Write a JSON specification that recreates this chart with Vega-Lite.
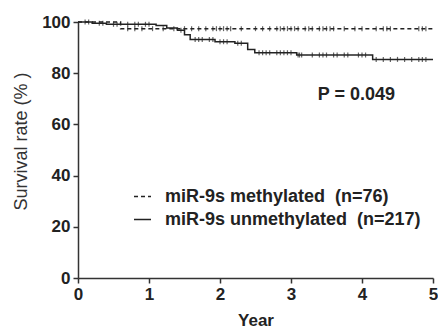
{
  "$schema": "https://vega.github.io/schema/vega-lite/v6.json",
  "width": 355,
  "height": 256,
  "autosize": {"type": "none"},
  "padding": {"left": 78, "top": 22, "right": 5, "bottom": 52},
  "background": "white",
  "config": {
    "view": {"stroke": null},
    "font": "Liberation Sans",
    "axis": {
      "domainColor": "#333",
      "domainWidth": 1.5,
      "tickColor": "#333",
      "tickWidth": 1.5,
      "tickSize": 5,
      "grid": false,
      "labelFont": "Liberation Sans",
      "labelFontWeight": "bold",
      "labelFontSize": 17,
      "labelColor": "#222",
      "titleFont": "Liberation Sans",
      "titleColor": "#222"
    }
  },
  "datasets": {
    "curves": [
      {"group": "miR-9s methylated\u00a0 (n=76)", "year": 0, "surv": 100},
      {"group": "miR-9s methylated\u00a0 (n=76)", "year": 0.6, "surv": 97.4},
      {"group": "miR-9s methylated\u00a0 (n=76)", "year": 5, "surv": 97.4},
      {"group": "miR-9s unmethylated\u00a0 (n=217)", "year": 0, "surv": 100},
      {"group": "miR-9s unmethylated\u00a0 (n=217)", "year": 0.2, "surv": 99.5},
      {"group": "miR-9s unmethylated\u00a0 (n=217)", "year": 0.4, "surv": 99.1},
      {"group": "miR-9s unmethylated\u00a0 (n=217)", "year": 1.1, "surv": 98.6},
      {"group": "miR-9s unmethylated\u00a0 (n=217)", "year": 1.25, "surv": 97.7},
      {"group": "miR-9s unmethylated\u00a0 (n=217)", "year": 1.4, "surv": 96.8},
      {"group": "miR-9s unmethylated\u00a0 (n=217)", "year": 1.5, "surv": 95.0},
      {"group": "miR-9s unmethylated\u00a0 (n=217)", "year": 1.58, "surv": 93.2},
      {"group": "miR-9s unmethylated\u00a0 (n=217)", "year": 1.93, "surv": 92.3},
      {"group": "miR-9s unmethylated\u00a0 (n=217)", "year": 2.21, "surv": 91.7},
      {"group": "miR-9s unmethylated\u00a0 (n=217)", "year": 2.39, "surv": 89.3},
      {"group": "miR-9s unmethylated\u00a0 (n=217)", "year": 2.49, "surv": 88.0},
      {"group": "miR-9s unmethylated\u00a0 (n=217)", "year": 3.08, "surv": 87.1},
      {"group": "miR-9s unmethylated\u00a0 (n=217)", "year": 4.15, "surv": 85.4},
      {"group": "miR-9s unmethylated\u00a0 (n=217)", "year": 5, "surv": 85.4}
    ],
    "censor": [
      {"year": 0.7, "surv": 97.4}, {"year": 0.8, "surv": 97.4}, {"year": 0.9, "surv": 97.4},
      {"year": 1.05, "surv": 97.4}, {"year": 1.2, "surv": 97.4}, {"year": 1.35, "surv": 97.4},
      {"year": 1.5, "surv": 97.4}, {"year": 1.6, "surv": 97.4}, {"year": 1.7, "surv": 97.4},
      {"year": 1.8, "surv": 97.4}, {"year": 1.9, "surv": 97.4}, {"year": 1.95, "surv": 97.4},
      {"year": 2.0, "surv": 97.4}, {"year": 2.05, "surv": 97.4}, {"year": 2.1, "surv": 97.4},
      {"year": 2.15, "surv": 97.4}, {"year": 2.3, "surv": 97.4}, {"year": 2.5, "surv": 97.4},
      {"year": 2.6, "surv": 97.4}, {"year": 2.7, "surv": 97.4}, {"year": 2.8, "surv": 97.4},
      {"year": 2.85, "surv": 97.4}, {"year": 2.9, "surv": 97.4}, {"year": 2.95, "surv": 97.4},
      {"year": 3.0, "surv": 97.4}, {"year": 3.05, "surv": 97.4}, {"year": 3.1, "surv": 97.4},
      {"year": 3.2, "surv": 97.4}, {"year": 3.25, "surv": 97.4}, {"year": 3.3, "surv": 97.4},
      {"year": 3.4, "surv": 97.4}, {"year": 3.45, "surv": 97.4}, {"year": 3.5, "surv": 97.4},
      {"year": 3.55, "surv": 97.4}, {"year": 3.6, "surv": 97.4}, {"year": 3.75, "surv": 97.4},
      {"year": 3.9, "surv": 97.4}, {"year": 4.0, "surv": 97.4}, {"year": 4.2, "surv": 97.4},
      {"year": 4.3, "surv": 97.4}, {"year": 4.35, "surv": 97.4}, {"year": 4.4, "surv": 97.4},
      {"year": 4.8, "surv": 97.4}, {"year": 4.85, "surv": 97.4}, {"year": 4.9, "surv": 97.4},
      {"year": 0.1, "surv": 100}, {"year": 0.15, "surv": 100}, {"year": 0.3, "surv": 99.5},
      {"year": 0.35, "surv": 99.5}, {"year": 0.5, "surv": 99.1}, {"year": 0.55, "surv": 99.1},
      {"year": 0.7, "surv": 99.1}, {"year": 0.8, "surv": 99.1}, {"year": 0.85, "surv": 99.1},
      {"year": 0.95, "surv": 99.1}, {"year": 1.0, "surv": 99.1}, {"year": 1.45, "surv": 96.8},
      {"year": 1.65, "surv": 93.2}, {"year": 1.7, "surv": 93.2}, {"year": 1.75, "surv": 93.2},
      {"year": 1.85, "surv": 93.2}, {"year": 1.9, "surv": 93.2}, {"year": 2.0, "surv": 92.3},
      {"year": 2.05, "surv": 92.3}, {"year": 2.1, "surv": 92.3}, {"year": 2.25, "surv": 91.7},
      {"year": 2.3, "surv": 91.7}, {"year": 2.55, "surv": 88.0}, {"year": 2.6, "surv": 88.0},
      {"year": 2.65, "surv": 88.0}, {"year": 2.7, "surv": 88.0}, {"year": 2.8, "surv": 88.0},
      {"year": 2.85, "surv": 88.0}, {"year": 2.9, "surv": 88.0}, {"year": 2.95, "surv": 88.0},
      {"year": 3.0, "surv": 88.0}, {"year": 3.1, "surv": 87.1}, {"year": 3.12, "surv": 87.1},
      {"year": 3.15, "surv": 87.1}, {"year": 3.3, "surv": 87.1}, {"year": 3.4, "surv": 87.1},
      {"year": 3.45, "surv": 87.1}, {"year": 3.5, "surv": 87.1}, {"year": 3.6, "surv": 87.1},
      {"year": 3.65, "surv": 87.1}, {"year": 3.75, "surv": 87.1}, {"year": 3.8, "surv": 87.1},
      {"year": 3.95, "surv": 87.1}, {"year": 4.0, "surv": 87.1}, {"year": 4.05, "surv": 87.1},
      {"year": 4.2, "surv": 85.4}, {"year": 4.3, "surv": 85.4}, {"year": 4.4, "surv": 85.4},
      {"year": 4.5, "surv": 85.4}, {"year": 4.6, "surv": 85.4}, {"year": 4.7, "surv": 85.4},
      {"year": 4.8, "surv": 85.4}, {"year": 4.85, "surv": 85.4}, {"year": 4.9, "surv": 85.4}
    ],
    "annot": [{"year": 3.92, "surv": 71.5, "label": "P = 0.049"}]
  },
  "layer": [
    {
      "data": {"name": "curves"},
      "mark": {"type": "line", "interpolate": "step-after", "color": "#222", "strokeWidth": 1.5},
      "encoding": {
        "x": {
          "field": "year", "type": "quantitative",
          "scale": {"domain": [0, 5], "nice": false},
          "axis": {"values": [0, 1, 2, 3, 4, 5], "format": "d", "title": "Year", "titleFontSize": 17, "titleFontWeight": "bold", "titleBaseline": "alphabetic", "titleY": 47, "labelPadding": 3, "labelFlush": false}
        },
        "y": {
          "field": "surv", "type": "quantitative",
          "scale": {"domain": [0, 100], "nice": false},
          "axis": {"values": [0, 20, 40, 60, 80, 100], "format": "d", "title": "Survival rate (% )", "titleFontSize": 18, "titleFontWeight": "normal", "titleColor": "#333", "titleAngle": -90, "titleBaseline": "middle", "titleAlign": "center", "titleX": -57, "titleY": 119, "labelPadding": 3}
        },
        "strokeDash": {
          "field": "group", "type": "nominal",
          "scale": {
            "domain": ["miR-9s methylated\u00a0 (n=76)", "miR-9s unmethylated\u00a0 (n=217)"],
            "range": [[4, 3], [1, 0]]
          },
          "legend": {
            "title": null,
            "orient": "none",
            "legendX": 55,
            "legendY": 165,
            "symbolType": "stroke",
            "symbolSize": 289,
            "symbolStrokeColor": "#222",
            "symbolStrokeWidth": 1.5,
            "labelFont": "Liberation Sans",
            "labelFontSize": 18,
            "labelFontWeight": "bold",
            "labelColor": "#222",
            "labelLimit": 400,
            "labelOffset": 13,
            "rowPadding": 4
          }
        }
      }
    },
    {
      "data": {"name": "censor"},
      "mark": {"type": "tick", "orient": "vertical", "color": "#222", "size": 5, "thickness": 1.2},
      "encoding": {
        "x": {"field": "year", "type": "quantitative"},
        "y": {"field": "surv", "type": "quantitative"}
      }
    },
    {
      "data": {"name": "annot"},
      "mark": {"type": "text", "font": "Liberation Sans", "fontSize": 18, "fontWeight": "bold", "color": "#222"},
      "encoding": {
        "x": {"field": "year", "type": "quantitative"},
        "y": {"field": "surv", "type": "quantitative"},
        "text": {"field": "label"}
      }
    }
  ]
}
